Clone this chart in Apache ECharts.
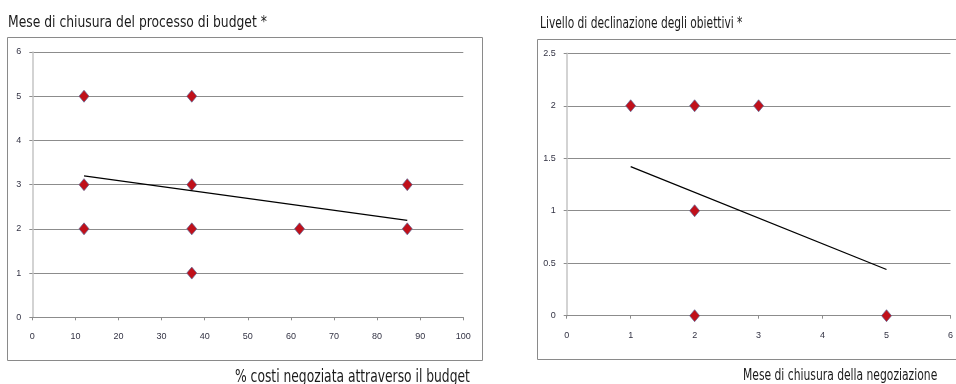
<!DOCTYPE html>
<html>
<head>
<meta charset="utf-8">
<script src="https://cdn.jsdelivr.net/npm/echarts@6/dist/echarts.min.js"></script>
<style>
  html, body { margin: 0; padding: 0; background: #ffffff; }
  #chart { width: 956px; height: 384px; }
</style>
</head>
<body>
<div id="chart"></div>
<script>
// Left panel: % of costs negotiated through the budget vs. closing month of the budget process
const leftTitle = 'Mese di chiusura del processo di budget *';
const leftXName = '% costi negoziata attraverso il budget';
const leftX = [12, 37, 12, 37, 87, 12, 37, 62, 87, 37];
const leftY = [5, 5, 3, 3, 3, 2, 2, 2, 2, 1];
const leftTrendX = [12, 87];
const leftTrendY = [3.2, 2.19];

// Right panel: closing month of the negotiation vs. level of objective breakdown
const rightTitle = 'Livello di declinazione degli obiettivi *';
const rightXName = 'Mese di chiusura della negoziazione';
const rightX = [1, 2, 3, 2, 2, 5];
const rightY = [2, 2, 2, 1, 0, 0];
const rightTrendX = [1, 5];
const rightTrendY = [1.42, 0.44];

const pairs = (xs, ys) => xs.map((x, i) => [x, ys[i]]);

const titleFont = '"Liberation Sans Narrow", "DejaVu Sans Condensed", sans-serif';
const tickFont = '"Liberation Sans", Arial, sans-serif';
const gridColor = '#8c8c8c';
const tickColor = '#333344';

function xAxisCfg(gridIndex, max, interval) {
  return {
    type: 'value', gridIndex, min: 0, max, interval,
    axisLine: { show: true, lineStyle: { color: gridColor, width: 1 } },
    axisTick: { show: true, length: 3, inside: false, lineStyle: { color: gridColor } },
    axisLabel: { color: tickColor, fontFamily: tickFont, fontSize: 9, margin: 15 },
    splitLine: { show: false }
  };
}
function yAxisCfg(gridIndex, max, interval) {
  return {
    type: 'value', gridIndex, min: 0, max, interval,
    axisLine: { show: true, onZero: false, lineStyle: { color: '#c4c4c4', width: 1.5 } },
    axisTick: { show: true, length: 3, lineStyle: { color: gridColor } },
    axisLabel: { color: tickColor, fontFamily: tickFont, fontSize: 9, margin: 11 },
    splitLine: { show: true, lineStyle: { color: gridColor, width: 1 } }
  };
}

// Text drawn with a horizontal squeeze to get the narrow look of the labels
function label(text, x, y, size, sx) {
  return {
    type: 'text', x, y, scaleX: sx, z: 10,
    style: { text, fontFamily: titleFont, fontSize: size, fill: '#1a1a1a',
             textVerticalAlign: 'middle' }
  };
}

const markerStyle = {
  color: '#c0101a',
  borderColor: '#5a6898',
  borderWidth: 0.7,
  opacity: 1
};

const chart = echarts.init(document.getElementById('chart'), null, { renderer: 'canvas' });
chart.setOption({
  animation: false,
  backgroundColor: '#ffffff',
  graphic: [
    { type: 'rect', shape: { x: 7.5, y: 37.5, width: 475, height: 323 },
      style: { fill: 'none', stroke: '#8a8a8a', lineWidth: 1 }, z: -10 },
    { type: 'rect', shape: { x: 537.5, y: 39.5, width: 425, height: 320 },
      style: { fill: 'none', stroke: '#8a8a8a', lineWidth: 1 }, z: -10 },
    label(leftTitle, 8, 23, 15, 0.915),
    label(rightTitle, 540, 24, 15, 0.79),
    label(leftXName, 235, 378, 17, 0.805),
    label(rightXName, 743, 376, 16, 0.747)
  ],
  grid: [
    { left: 32.3, top: 52, width: 431, height: 265.3 },
    { left: 566.7, top: 53.3, width: 385, height: 262.4 }
  ],
  xAxis: [xAxisCfg(0, 100, 10), xAxisCfg(1, 6, 1)],
  yAxis: [yAxisCfg(0, 6, 1), yAxisCfg(1, 2.5, 0.5)],
  series: [
    { type: 'scatter', xAxisIndex: 0, yAxisIndex: 0, data: pairs(leftX, leftY),
      symbol: 'diamond', symbolSize: [10, 12], itemStyle: markerStyle, z: 3 },
    { type: 'line', xAxisIndex: 0, yAxisIndex: 0, data: pairs(leftTrendX, leftTrendY),
      symbol: 'none', lineStyle: { color: '#000000', width: 1.3 }, z: 4 },
    { type: 'scatter', xAxisIndex: 1, yAxisIndex: 1, data: pairs(rightX, rightY),
      symbol: 'diamond', symbolSize: [10, 12], itemStyle: markerStyle, z: 3 },
    { type: 'line', xAxisIndex: 1, yAxisIndex: 1, data: pairs(rightTrendX, rightTrendY),
      symbol: 'none', lineStyle: { color: '#000000', width: 1.3 }, z: 4 }
  ]
});
</script>
</body>
</html>
